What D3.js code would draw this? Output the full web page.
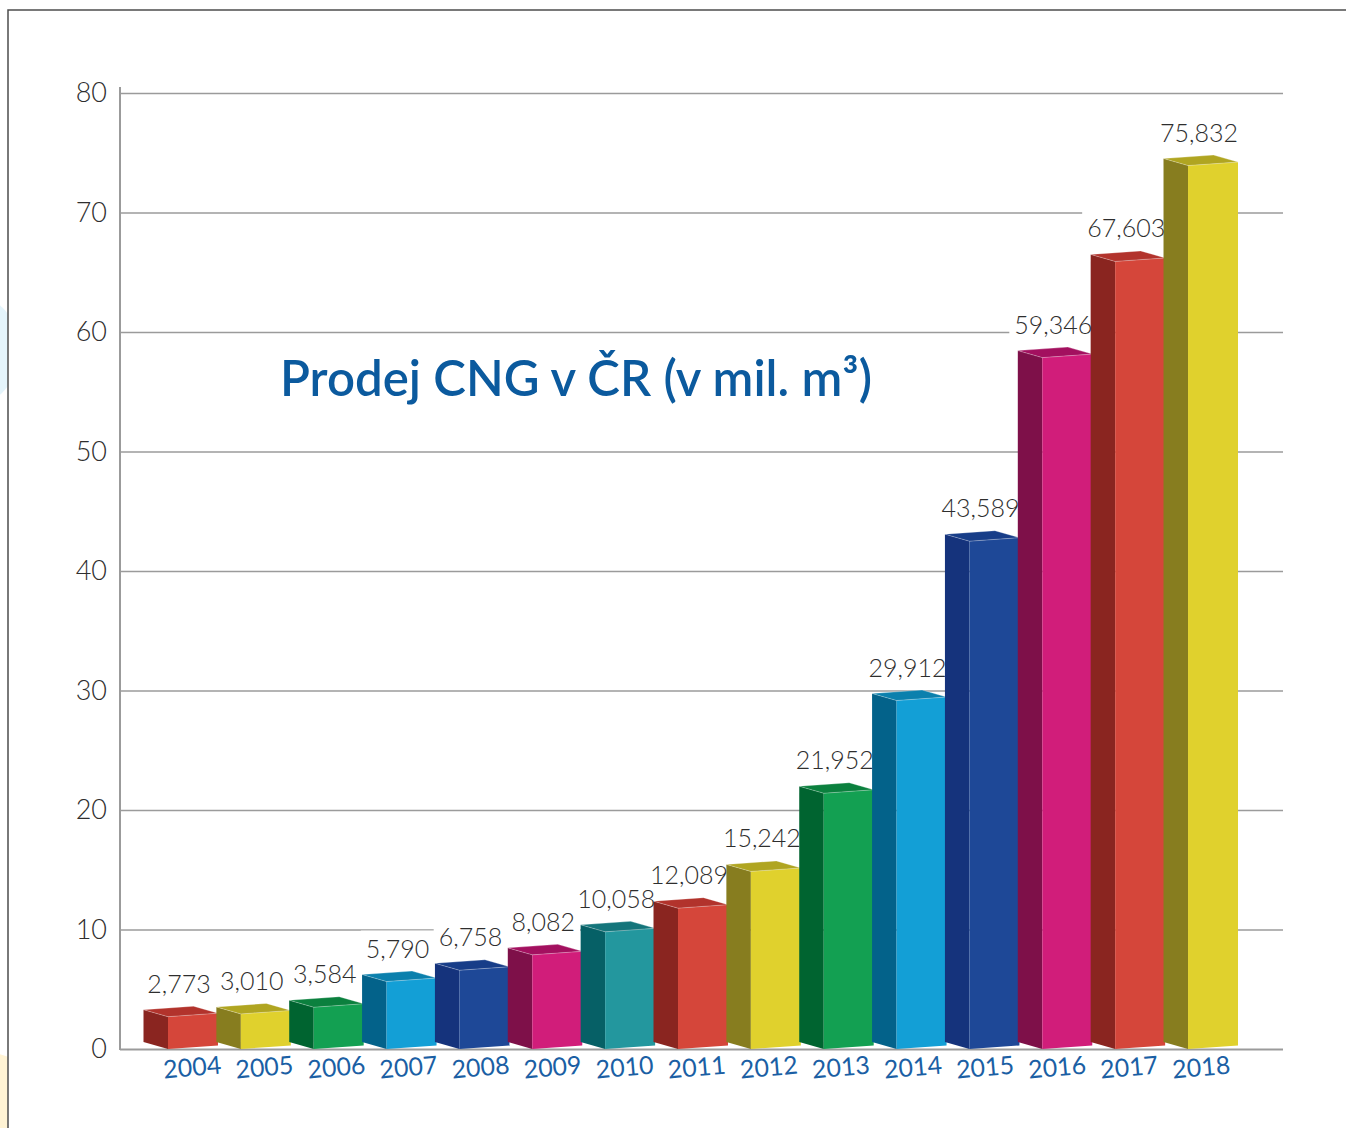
<!DOCTYPE html>
<html>
<head>
<meta charset="utf-8">
<script src="https://cdn.jsdelivr.net/npm/d3@7"></script>
<style>
  body { margin: 0; background: #fff; }
  svg { display: block; }
</style>
</head>
<body>
<script>
// data
const years = ["2004","2005","2006","2007","2008","2009","2010","2011","2012","2013","2014","2015","2016","2017","2018"];
const sales = [2.773, 3.010, 3.584, 5.790, 6.758, 8.082, 10.058, 12.089, 15.242, 21.952, 29.912, 43.589, 59.346, 67.603, 75.832];
const yTicks = [0, 10, 20, 30, 40, 50, 60, 70, 80];
const barColors = ["red","yellow","green","sky","navy","magenta","teal","red","yellow","green","sky","navy","magenta","red","yellow"];
const title = "Prodej CNG v ČR (v mil. m³)";

const palette = {
  red:     { front: "#d5463a", side: "#8a2520", top: "#b2332c" },
  yellow:  { front: "#e0d12d", side: "#877d1f", top: "#b0a521" },
  green:   { front: "#13a052", side: "#006430", top: "#0b803e" },
  sky:     { front: "#139fd6", side: "#03628a", top: "#0b80ad" },
  navy:    { front: "#1e4897", side: "#15337c", top: "#173d88" },
  magenta: { front: "#d11d7a", side: "#7e1049", top: "#a3105f" },
  teal:    { front: "#23979e", side: "#066066", top: "#14757b" }
};

const W = 1346, H = 1128;
const base = 1049, axisX = 120, gridEnd = 1283;
const dx = -24.5, dy = -7, tilt = 3.5;

const fmt = d3.formatLocale({decimal: ",", thousands: " ", grouping: [3], currency: ["", ""]}).format(".3f");

const svg = d3.select("body").append("svg")
    .attr("width", W).attr("height", H);

// faint decorations peeking at the left edge
svg.append("clipPath").attr("id", "edge").append("rect")
    .attr("x", 0).attr("y", 0).attr("width", 8).attr("height", H);
const deco = svg.append("g").attr("clip-path", "url(#edge)");
deco.append("circle").attr("cx", -40).attr("cy", 350).attr("r", 60).attr("fill", "#e4f4fb");
deco.append("circle").attr("cx", -30).attr("cy", 1160).attr("r", 110).attr("fill", "#fff3d4");

svg.append("path")
    .attr("d", `M8,${H} V10 H${W}`)
    .attr("fill", "none").attr("stroke", "#4d4d4d").attr("stroke-width", 1.5);

// axis scale and a slightly flatter scale the bars were drawn with
const y = d3.scaleLinear().domain([0, 80]).range([base, 93]);
const yBar = d3.scaleLinear().domain([0, 80]).range([base, base - 80 * 11.65]);

const x = d3.scaleBand().domain(years).range([168, 1238]).paddingInner(0.314);
const bw = x.bandwidth();
// year labels sit on a slightly tighter spacing than the bars
const xYear = d3.scalePoint().domain(years).range([193, 1202]);

const axis = svg.append("g")
    .attr("transform", `translate(${axisX},0)`)
    .call(d3.axisLeft(y).tickValues(yTicks).tickSize(-(gridEnd - axisX)).tickPadding(13))
    .call(g => g.select(".domain").remove());

axis.selectAll(".tick line")
    .attr("stroke", "#9b9b9b")
    .attr("stroke-width", d => d === 0 ? 2.2 : 1.4);
axis.selectAll(".tick text")
    .attr("fill", "#2e2e2e")
    .style("font-family", "Lato, 'Open Sans', sans-serif")
    .style("font-weight", 300)
    .style("font-size", "27px");

svg.append("line")
    .attr("x1", axisX).attr("x2", axisX)
    .attr("y1", 87).attr("y2", base + 1)
    .attr("stroke", "#9b9b9b").attr("stroke-width", 2);

// title
svg.append("text")
    .attr("x", 280).attr("y", 396)
    .attr("fill", "#0b5a9e")
    .attr("textLength", 592).attr("lengthAdjust", "spacingAndGlyphs")
    .style("font-family", "Lato, 'Open Sans', sans-serif")
    .style("font-weight", 600)
    .style("font-size", "50px")
    .text(title);

const data = years.map((yr, i) => ({ year: yr, value: sales[i], c: palette[barColors[i]] }));

const labelBg = svg.append("g");

const bars = svg.append("g").selectAll("g")
    .data(data)
    .join("g");

const pts = a => a.map(p => p.join(",")).join(" ");

bars.append("polygon")
    .attr("fill", d => d.c.side)
    .attr("points", d => {
      const L = x(d.year), t = yBar(d.value);
      return pts([[L + dx, base + dy], [L, base], [L, t], [L + dx, t + dy]]);
    });

bars.append("polygon")
    .attr("fill", d => d.c.front)
    .attr("points", d => {
      const L = x(d.year), R = L + bw, t = yBar(d.value);
      return pts([[L, base], [R, base - tilt], [R, t - tilt], [L, t]]);
    });

bars.append("polygon")
    .attr("fill", d => d.c.top)
    .attr("stroke", "rgba(255,255,255,0.35)").attr("stroke-width", 0.8)
    .attr("points", d => {
      const L = x(d.year), R = L + bw, t = yBar(d.value);
      return pts([[L, t], [R, t - tilt], [R + dx, t - tilt + dy], [L + dx, t + dy]]);
    });

// value labels with white patches that hide the grid behind them
const labels = svg.append("g").selectAll("text")
    .data(data)
    .join("text")
    .attr("x", d => x(d.year) + 11)
    .attr("y", d => yBar(d.value) - 24)
    .attr("text-anchor", "middle")
    .attr("fill", "#2e2e2e")
    .style("font-family", "Lato, 'Open Sans', sans-serif")
    .style("font-weight", 300)
    .style("font-size", "25px")
    .text(d => fmt(d.value));

labels.each(function() {
  const b = this.getBBox();
  labelBg.append("rect")
      .attr("x", b.x - 5).attr("y", b.y - 2)
      .attr("width", b.width + 10).attr("height", b.height + 4)
      .attr("fill", "#fff");
});

// year labels, slightly tilted
svg.append("g").selectAll("text")
    .data(years)
    .join("text")
    .attr("transform", d => `translate(${xYear(d)},1076) rotate(-5)`)
    .attr("text-anchor", "middle")
    .attr("fill", "#1b5fa4")
    .style("font-family", "Lato, 'Open Sans', sans-serif")
    .style("font-weight", 400)
    .style("font-size", "25px")
    .text(d => d);
</script>
</body>
</html>
